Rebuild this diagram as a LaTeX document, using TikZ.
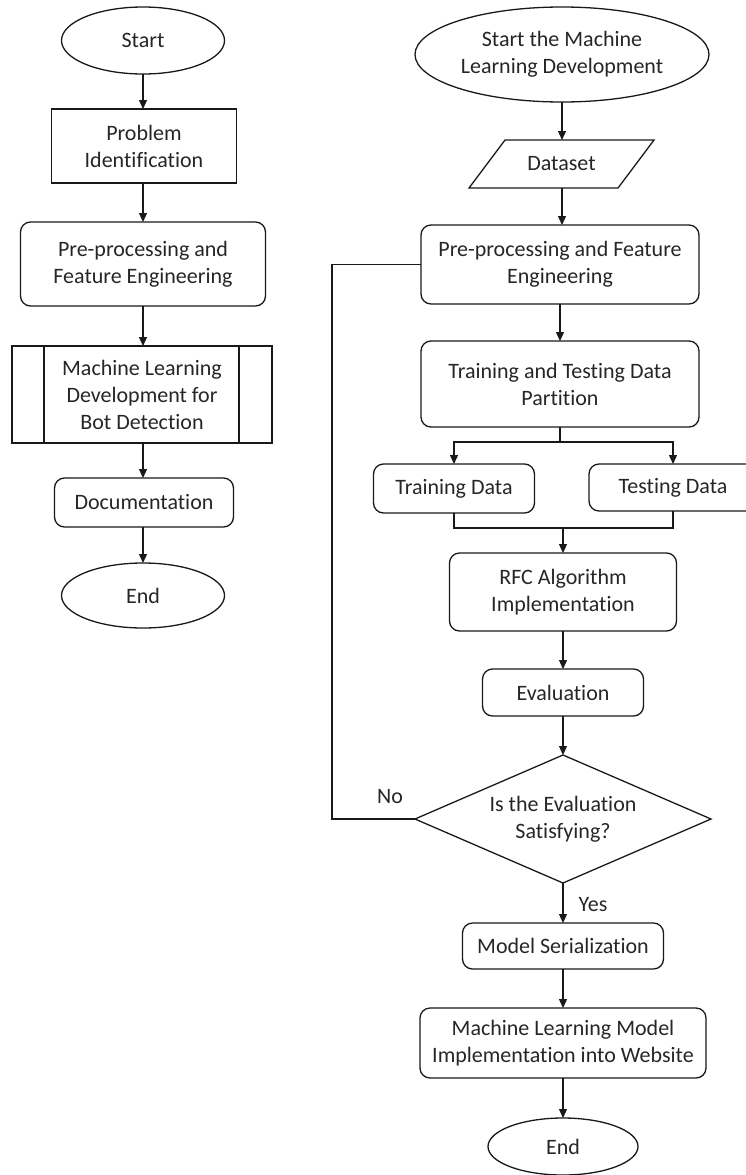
\documentclass[tikz,border=0pt]{standalone}
\usepackage{fontspec}
\setmainfont{Carlito}[Ligatures=NoCommon]
\usetikzlibrary{shapes.geometric,arrows.meta,calc}
\begin{document}
\begin{tikzpicture}[x=1pt,y=-1pt,
  font=\fontsize{22}{27}\selectfont,
  lw/.style={line width=1.3pt, draw=black!90},
  base/.style={lw, align=center, inner sep=0pt, outer sep=0pt, text=black!85},
  sbox/.style={base, rectangle},
  rbox/.style={base, rectangle, rounded corners=10pt},
  oval/.style={base, ellipse},
  arr/.style={lw, -{Triangle[length=9pt,width=8pt]}},
  lbl/.style={text=black!85, inner sep=0pt}]
\useasboundingbox (0,0) rectangle (745,1175);

% ---------- left column ----------
\node[oval, minimum width=163, minimum height=67] (start) at (143,40.5) {Start};
\node[sbox, minimum width=185, minimum height=74] (prob) at (144,146) {Problem\\Identification};
\node[rbox, minimum width=245, minimum height=84] (pre1) at (143,264) {Pre-processing and\\Feature Engineering};
\node[sbox, minimum width=260, minimum height=97] (mld) at (142,394.5) {Machine Learning\\Development for\\Bot Detection};
\draw[lw] ([xshift=32pt]mld.north west) -- ([xshift=32pt]mld.south west);
\draw[lw] ([xshift=-33pt]mld.north east) -- ([xshift=-33pt]mld.south east);
\node[rbox, minimum width=179, minimum height=49] (doc) at (144,502.5) {Documentation};
\node[oval, minimum width=163, minimum height=65] (end1) at (143,595.5) {End};

\draw[arr] (start.south) -- (start.south |- prob.north);
\draw[arr] (start.south |- prob.south) -- (start.south |- pre1.north);
\draw[arr] (pre1.south) -- (pre1.south |- mld.north);
\draw[arr] (pre1.south |- mld.south) -- (pre1.south |- doc.north);
\draw[arr] (pre1.south |- doc.south) -- (end1.north);

% ---------- right column ----------
\node[oval, minimum width=294, minimum height=95] (start2) at (562,54.5) {Start the Machine\\Learning Development};
\node[base, draw=none, minimum width=185, minimum height=48] (data) at (561.5,164) {Dataset};
\draw[lw] (data.north east) -- ++(-149,0) -- (data.south west) -- ++(149,0) -- cycle;
\node[rbox, minimum width=278, minimum height=79] (pre2) at (560,264.5) {Pre-processing and Feature\\Engineering};
\node[rbox, minimum width=278, minimum height=86] (part) at (560,384) {Training and Testing Data\\Partition};
\node[rbox, minimum width=161, minimum height=49] (train) at (454,488.5) {Training Data};
\node[rbox, minimum width=168, minimum height=47] (test) at (673,487.5) {Testing Data};
\node[rbox, minimum width=227, minimum height=78] (rfc) at (563,592) {RFC Algorithm\\Implementation};
\node[rbox, minimum width=161, minimum height=47] (eval) at (563,692.5) {Evaluation};
\node[base, diamond, minimum width=296, minimum height=128] (dec) at (563,819) {};
\node[lbl, align=center] (dectxt) at (dec.center) {Is the Evaluation\\Satisfying?};
\node[rbox, minimum width=201, minimum height=46] (ser) at (563,946) {Model Serialization};
\node[rbox, minimum width=286, minimum height=70] (impl) at (563,1043) {Machine Learning Model\\Implementation into Website};
\node[oval, minimum width=150, minimum height=57] (end2) at (563,1146.5) {End};

\draw[arr] (start2.south) -- (start2.south |- data.north);
\draw[arr] (start2.south |- data.south) -- (start2.south |- pre2.north);
\draw[arr] (pre2.south) -- (part.north);
\draw[lw] (part.south) -- ++(0,15) coordinate (split);
\draw[arr] (split) -| (train.north);
\draw[arr] (split) -| (test.north);
\draw[lw] (train.south) -- ++(0,15) coordinate (m1) -| (test.south);
\draw[arr] (rfc.north |- m1) -- (rfc.north);
\draw[arr] (rfc.south) -- (rfc.south |- eval.north);
\draw[arr] (eval.south) -- (dec.north);
\draw[arr] (dec.south) -- (ser.north);
\draw[arr] (ser.south) -- (impl.north);
\draw[arr] (impl.south) -- (end2.north);

% feedback loop
\draw[lw] (dec.west) -- (332,819) coordinate (fb) |- (pre2.west);
\node[lbl] (no) at (390,797) {No};
\node[lbl] (yes) at (593,905) {Yes};
\end{tikzpicture}
\end{document}
